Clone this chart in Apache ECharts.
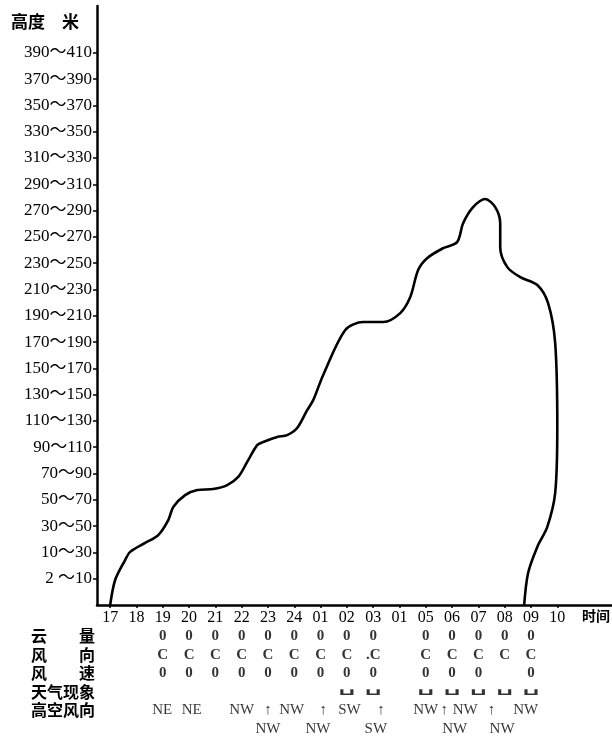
<!DOCTYPE html>
<html>
<head>
<meta charset="utf-8">
<script src="https://cdn.jsdelivr.net/npm/echarts@6/dist/echarts.min.js"></script>
<style>html,body{margin:0;padding:0;background:#fff}#c{width:612px;height:738px}</style>
</head>
<body>
<div id="c"></div>
<script>
// Hour labels along the time axis (index 0 = 17h)
const hourLabels = ['17','18','19','20','21','22','23','24','01','02','03','01','05','06','07','08','09','10'];
// Height-level labels (level 1 .. 21)
const heightLabels = ['2 ～10','10～30','30～50','50～70','70～90','90～110','110～130','130～150','150～170','170～190','190～210','210～230','230～250','250～270','270～290','290～310','310～330','330～350','350～370','370～390','390～410'];
// Inversion-top curve: [hour index, height level]
const curveX = [0.00,0.19,0.57,0.76,1.33,1.83,2.21,2.40,2.85,3.31,3.92,4.45,4.87,5.21,5.59,5.82,6.35,6.73,7.11,7.49,7.72,8.10,8.94,9.62,10.38,11.03,11.41,11.71,12.05,12.66,13.19,13.42,13.80,14.26,14.64,14.83,14.83,15.10,15.59,16.24,16.65,16.92,17.00,16.92,16.62,16.24,15.89,15.74];
const curveY = [0.00,0.95,1.71,2.02,2.36,2.66,3.23,3.73,4.18,4.37,4.41,4.56,4.87,5.44,6.08,6.20,6.39,6.46,6.73,7.41,7.79,8.75,10.46,10.76,10.76,11.10,11.71,12.74,13.19,13.57,13.80,14.52,15.13,15.44,15.13,14.52,13.61,12.85,12.47,12.17,11.48,9.96,6.77,4.26,2.97,2.21,1.22,0.00];
// Table rows (per hour index)
const rowNames = ['云量','风向','风速','天气现象','高空风向','高空风向下'];
const rowLabels = ['云\u3000\u3000量','风\u3000\u3000向','风\u3000\u3000速','天气现象','高空风向',''];
const cloudRow     = ['','','0','0','0','0','0','0','0','0','0','','0','0','0','0','0',''];
const windDirRow   = ['','','C','C','C','C','C','C','C','C','.C','','C','C','C','C','C',''];
const windSpeedRow = ['','','0','0','0','0','0','0','0','0','0','','0','0','0','','0',''];
const weatherRow   = ['','','','','','','','','','f','f','','f','f','f','f','f',''];
const upperWindTopX = [1.98,3.1,5.0,6.0,6.9,8.1,9.1,10.3,12.0,12.7,13.5,14.5,15.8];
const upperWindTopT = ['NE','NE','NW','↑','NW','↑','SW','↑','NW','↑','NW','↑','NW'];
const upperWindBotX = [6.0,7.9,10.1,13.1,14.9];
const upperWindBotT = ['NW','NW','SW','NW','NW'];

const serif = '"Liberation Serif","DejaVu Serif","Noto Sans CJK SC",serif';
const cjk = '"Noto Sans CJK SC","Noto Sans CJK JP",sans-serif';
const XMAX = 19.08, YMAX = 22.78;

function rowData(row, name) {
  const d = [];
  row.forEach((t, i) => { if (t !== '') d.push([i, name, t]); });
  return d;
}
function freeData(xs, ts, name) { return xs.map((x, i) => [x, name, ts[i]]); }
const tableLabel = {show:true, position:'inside', formatter:p => p.value[2], color:'#000', fontFamily:serif, fontSize:15, fontWeight:'bold'};
function textSeries(data, extra) {
  return Object.assign({type:'scatter', xAxisIndex:1, yAxisIndex:1, symbolSize:0, data:data, label:tableLabel, silent:true}, extra || {});
}

const chart = echarts.init(document.getElementById('c'), null, {renderer:'canvas'});
chart.setOption({
  animation:false,
  backgroundColor:'#fff',
  grid:[{left:97, right:0, top:6, bottom:133}, {left:97, right:0, top:627, height:115}],
  xAxis:[
    {type:'value', gridIndex:0, min:-0.5, max:XMAX,
     axisLine:{show:true, onZero:false, lineStyle:{color:'#000', width:2.5}},
     axisTick:{show:true, customValues:hourLabels.map((_, i) => i), length:3, lineStyle:{color:'#000', width:1.5}},
     axisLabel:{customValues:hourLabels.map((_, i) => i), formatter:v => hourLabels[Math.round(v)], color:'#000', fontFamily:serif, fontSize:16, margin:5},
     splitLine:{show:false}},
    {type:'value', gridIndex:1, min:-0.5, max:XMAX, show:false}
  ],
  yAxis:[
    {type:'value', gridIndex:0, min:0, max:YMAX,
     axisLine:{show:true, onZero:false, lineStyle:{color:'#000', width:2.5}},
     axisTick:{show:true, customValues:heightLabels.map((_, i) => i + 1), length:4, lineStyle:{color:'#000', width:1.5}},
     axisLabel:{customValues:heightLabels.map((_, i) => i + 1), formatter:v => heightLabels[Math.round(v) - 1], color:'#000', fontFamily:serif, fontSize:17, margin:5},
     splitLine:{show:false}},
    {type:'category', gridIndex:1, inverse:true, data:rowNames,
     axisLine:{show:false}, axisTick:{show:false},
     axisLabel:{interval:0, formatter:(v, i) => rowLabels[i], color:'#000', fontFamily:cjk, fontSize:16, fontWeight:'bold', margin:2}}
  ],
  graphic:[
    {type:'text', left:11, top:13, style:{text:'高度\u3000米', font:'bold 17px ' + cjk, fill:'#000'}},
    {type:'text', left:582, top:609, style:{text:'时间', font:'bold 14px ' + cjk, fill:'#000'}}
  ],
  series:[
    {type:'line', xAxisIndex:0, yAxisIndex:0, data:curveX.map((x, i) => [x, curveY[i]]), smooth:0.3,
     showSymbol:false, lineStyle:{color:'#000', width:2.6}, silent:true},
    textSeries(rowData(cloudRow, rowNames[0])),
    textSeries(rowData(windDirRow, rowNames[1])),
    textSeries(rowData(windSpeedRow, rowNames[2])),
    textSeries(rowData(weatherRow, rowNames[3]), {symbol:'path://M0,0L0,10L20,10L20,0', symbolSize:[10,5], label:{show:false},
      itemStyle:{color:'none', borderColor:'#000', borderWidth:2.2}}),
    textSeries(freeData(upperWindTopX, upperWindTopT, rowNames[4]), {label:Object.assign({}, tableLabel, {fontWeight:'normal', fontSize:15})}),
    textSeries(freeData(upperWindBotX, upperWindBotT, rowNames[5]), {label:Object.assign({}, tableLabel, {fontWeight:'normal', fontSize:15})})
  ]
});
</script>
</body>
</html>
